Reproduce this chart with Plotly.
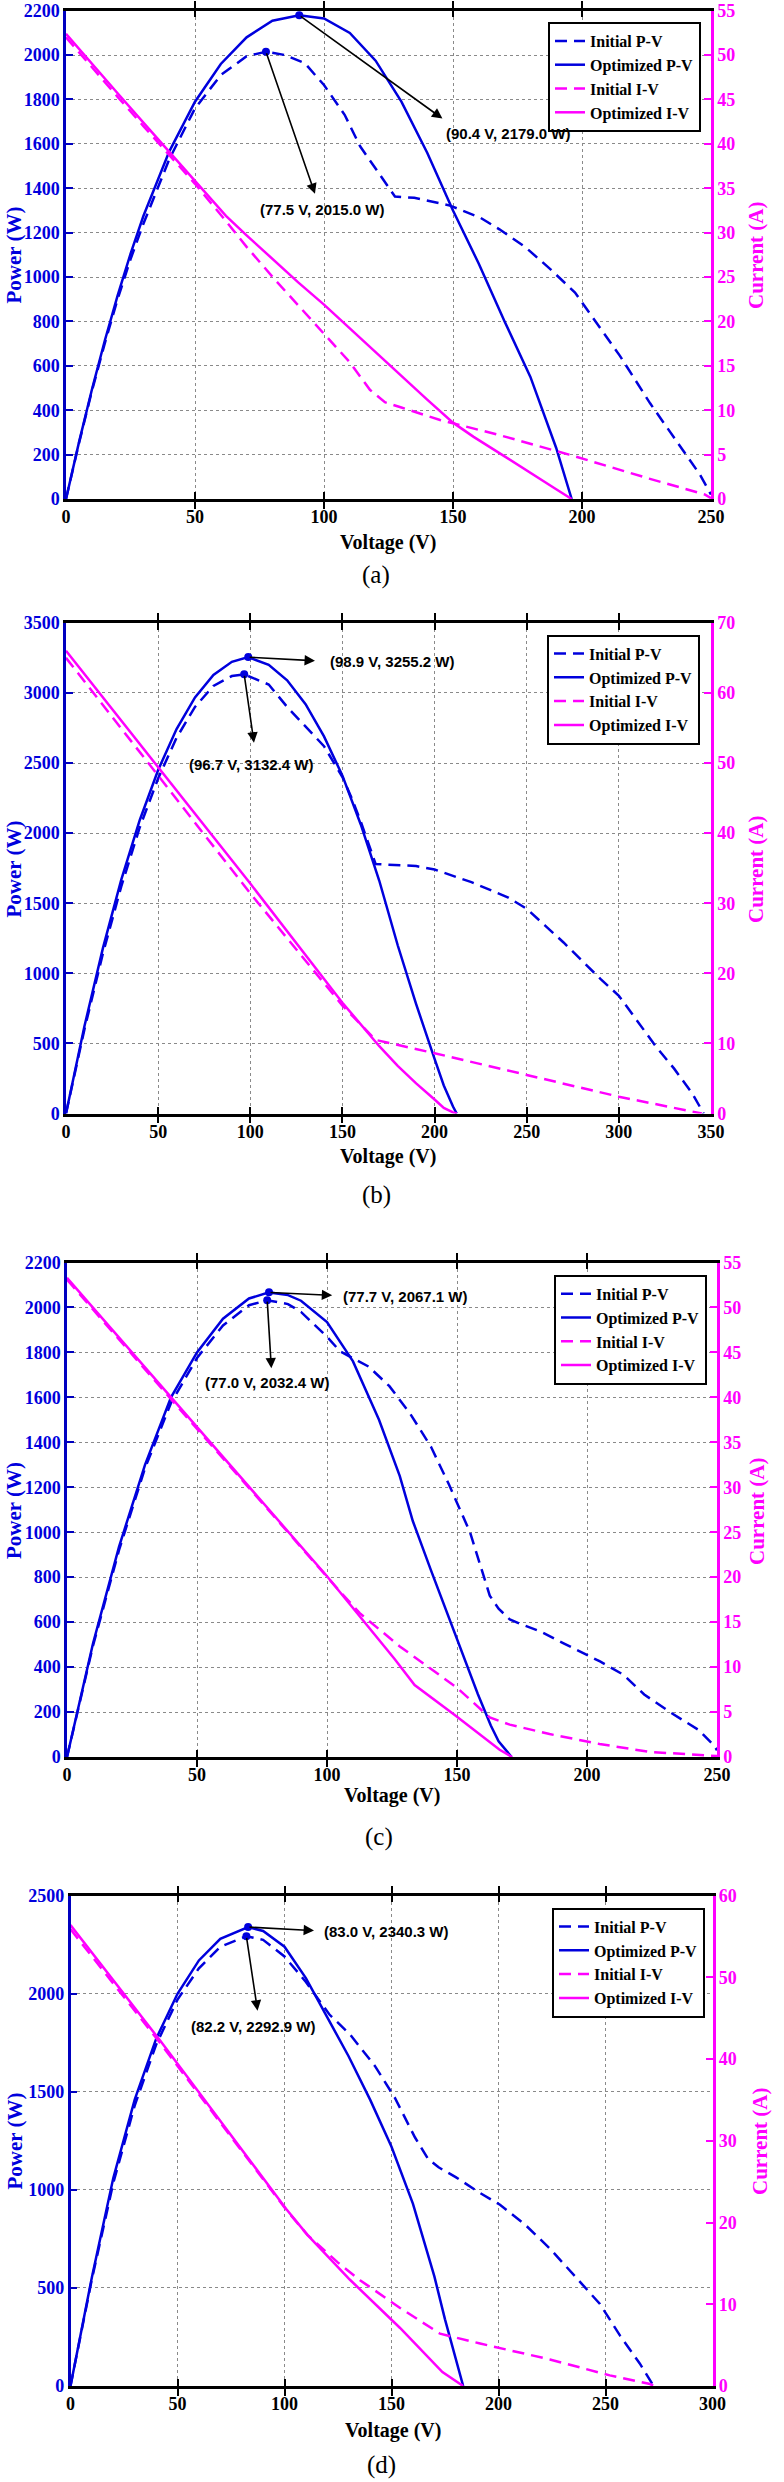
import plotly.graph_objects as go

# ---------------- Panel (a) ----------------
a_v_pv_init = [0, 5, 10, 15, 20, 25, 30, 40, 50, 60, 70, 77.5, 85, 92.6, 100, 108, 114, 120, 124.6, 127.5, 135, 148.8, 160.5, 168, 178, 187.6, 197.3, 207, 214.7, 226.4, 236, 245.7, 250]
a_p_pv_init = [0, 250, 485, 700, 900, 1080, 1240, 1530, 1760, 1910, 1995, 2015, 2000, 1963, 1865, 1731, 1589, 1490, 1411, 1363, 1357, 1322, 1268, 1215, 1135, 1037, 930, 770, 645, 431, 271, 110, 20]
a_v_pv_opt = [0, 5, 10, 15, 20, 25, 30, 40, 50, 60, 70, 80, 90.4, 100, 110, 120, 130, 140, 150, 160, 170, 180, 190, 196]
a_p_pv_opt = [0, 254, 491, 712, 916, 1104, 1275, 1565, 1790, 1960, 2080, 2155, 2179, 2165, 2100, 1975, 1790, 1560, 1300, 1060, 800, 550, 230, 0]
a_v_iv_init = [0, 10, 20, 30, 40, 50, 62, 70, 81, 90, 100, 110, 117.8, 123.6, 130, 145, 168, 195, 226, 247.7, 250]
a_i_iv_init = [52.0, 48.6, 45.3, 42.0, 38.8, 35.5, 31.3, 28.4, 24.7, 21.8, 18.6, 15.4, 12.3, 10.9, 10.3, 8.9, 7.2, 5.0, 2.3, 0.5, 0.1]
a_v_iv_opt = [0, 10, 20, 30, 40, 50, 62, 70, 80, 90, 100, 110, 120, 130, 140, 150, 158, 170, 180, 190, 196]
a_i_iv_opt = [52.4, 49.0, 45.7, 42.4, 39.1, 35.8, 31.9, 29.7, 27.0, 24.4, 21.9, 19.2, 16.5, 13.9, 11.2, 8.6, 7.0, 4.8, 3.0, 1.1, 0]

# ---------------- Panel (b) ----------------
b_v_pv_init = [0, 10, 20, 30, 40, 50, 60, 70, 80, 90, 96.7, 110, 120, 130, 140, 150, 155, 160, 165, 168, 175, 190, 200, 220, 240, 250, 260, 270, 280, 290, 300, 310, 320, 330, 340, 346]
b_p_pv_init = [0, 600, 1140, 1620, 2040, 2390, 2680, 2900, 3050, 3120, 3132, 3060, 2900, 2760, 2620, 2400, 2250, 2080, 1900, 1780, 1775, 1765, 1740, 1650, 1540, 1460, 1340, 1220, 1090, 960, 840, 660, 480, 320, 140, 0]
b_v_pv_opt = [0, 10, 20, 30, 40, 50, 60, 70, 80, 90, 98.9, 110, 120, 130, 140, 150, 160, 170, 180, 190, 200, 205, 210, 212]
b_p_pv_opt = [0, 622, 1178, 1668, 2092, 2450, 2742, 2968, 3128, 3222, 3255, 3200, 3090, 2920, 2690, 2410, 2060, 1660, 1200, 780, 390, 200, 50, 0]
b_v_iv_init = [0, 50, 100, 150, 168, 200, 250, 300, 345]
b_i_iv_init = [65.0, 48.2, 31.4, 15.4, 10.5, 8.6, 5.5, 2.4, 0]
b_v_iv_opt = [0, 50, 100, 150, 170, 180, 190, 200, 205, 210, 212]
b_i_iv_opt = [66.0, 49.4, 32.8, 15.8, 9.6, 6.8, 4.3, 2.0, 0.8, 0.15, 0]

# ---------------- Panel (c) ----------------
c_v_pv_init = [0, 10, 20, 30, 40, 50, 60, 70, 77, 85, 90, 100, 105, 110, 116, 124, 132, 140, 147, 155, 162.6, 166, 170.3, 174, 182, 191, 199, 205, 214, 222, 232, 243, 249, 250]
c_p_pv_init = [0, 495, 920, 1285, 1575, 1775, 1920, 2010, 2032, 2015, 1980, 1870, 1805, 1775, 1737, 1650, 1527, 1380, 1210, 1000, 718, 660, 612, 594, 559, 506, 460, 425, 366, 278, 199, 120, 49, 30]
c_v_pv_opt = [0, 10, 20, 30, 40, 50, 60, 70, 77.7, 85, 90, 100, 110, 120, 128, 133, 140, 150, 158, 163, 166, 171]
c_p_pv_opt = [0, 505, 935, 1300, 1600, 1800, 1950, 2040, 2067, 2055, 2030, 1935, 1760, 1500, 1250, 1050, 830, 520, 280, 140, 70, 0]
c_v_iv_init = [0, 40, 105, 112.6, 128, 140, 150, 162.6, 170.3, 185.6, 204.8, 224, 249, 250]
c_i_iv_init = [53.1, 39.8, 18.4, 16.0, 12.3, 9.8, 7.7, 4.4, 3.6, 2.55, 1.45, 0.57, 0.13, 0.1]
c_v_iv_opt = [0, 40, 100, 126, 133.7, 149, 158.7, 166.4, 171.2]
c_i_iv_opt = [53.3, 40.0, 20.1, 10.9, 8.0, 4.7, 2.55, 0.8, 0]

# ---------------- Panel (d) ----------------
d_v_pv_init = [0, 10, 20, 30, 40, 50, 60, 70, 82.2, 90, 100, 110, 121, 130.6, 142.3, 151.6, 161, 167, 172, 180, 191.4, 200.7, 212.4, 224, 235.7, 247.4, 256.8, 266, 272.5]
d_p_pv_init = [0, 545, 1035, 1430, 1740, 1970, 2130, 2240, 2293, 2275, 2190, 2060, 1894, 1793, 1631, 1469, 1267, 1160, 1115, 1065, 984, 924, 823, 701, 560, 418, 257, 115, 0]
d_v_pv_opt = [0, 10, 20, 30, 40, 50, 60, 70, 83, 90, 100, 110, 120, 130, 140, 150, 160, 170, 175, 180, 183.5]
d_p_pv_opt = [0, 555, 1060, 1460, 1770, 2000, 2170, 2280, 2340, 2320, 2240, 2080, 1880, 1680, 1460, 1220, 930, 560, 340, 140, 0]
d_v_iv_init = [0, 41.8, 100.7, 110.7, 125, 135.3, 154, 172.7, 191.4, 224, 252, 270.8, 272.5]
d_i_iv_init = [55.9, 42.0, 21.6, 18.5, 15.1, 12.95, 9.55, 6.4, 5.2, 3.25, 1.3, 0.24, 0]
d_v_iv_opt = [0, 41.8, 100.7, 110.7, 130.6, 154, 173.8, 183.5]
d_i_iv_opt = [56.4, 42.3, 21.7, 18.5, 13.0, 7.1, 1.7, 0]

# Maximum power points: [V_init, P_init, V_opt, P_opt]
mpp_a = [77.5, 2015.0, 90.4, 2179.0]
mpp_b = [96.7, 3132.4, 98.9, 3255.2]
mpp_c = [77.0, 2032.4, 77.7, 2067.1]
mpp_d = [82.2, 2292.9, 83.0, 2340.3]

# arrow heads / label centres (data coords):
# [init_head_V, init_head_P, init_lbl_V, init_lbl_P, opt_head_V, opt_head_P, opt_lbl_V, opt_lbl_P]
ann_a = [96.5, 1375, 99.4, 1304, 145.9, 1714, 171.7, 1649]
ann_b = [102.0, 2645, 100.9, 2490, 135.1, 3229, 176.9, 3223]
ann_c = [78.6, 1729, 77.2, 1664, 102.0, 2054, 130.1, 2049]
ann_d = [87.4, 1914, 85.3, 1833, 113.8, 2322, 147.7, 2318]

# axes ranges
x_max = [250, 350, 250, 300]
x_dtick = [50, 50, 50, 50]
p_max = [2200, 3500, 2200, 2500]
p_dtick = [200, 500, 200, 500]
i_max = [55, 70, 55, 60]
i_dtick = [5, 10, 5, 10]
panel_labels = ["(a)", "(b)", "(c)", "(d)"]
x_title = "Voltage (V)"
yl_title = "Power (W)"
yr_title = "Current (A)"

W, H = 784, 2482
BLUE = "#0000DD"
AXBLUE = "#0000C0"
MAG = "#FF00FF"
SERIF = "Liberation Serif, Times New Roman, serif"
SANS = "Liberation Sans Narrow, Arial Narrow, Liberation Sans, Arial, sans-serif"

# page pixel geometry (left, right, top, bottom) of the plot boxes
boxes = [(66, 711, 10.7, 499), (66, 711, 622.8, 1113.5), (67, 717, 1262.5, 1757), (70.5, 712.5, 1895.7, 2386)]
legend_pos = [(701, 22), (700, 634.6), (707, 1274.8), (705, 1907.6)]
label_pos = [(375.5, 575), (376, 1195), (378.5, 1837), (381, 2465)]
xtitle_pos = [(388, 542), (388, 1156.6), (391.5, 1795.5), (393, 2430)]
yltitle_pos = [(13.5, 255), (13.5, 869), (14, 1511), (14.5, 2141)]
yrtitle_pos = [(756, 255), (756, 869), (757, 1511), (760, 2141)]


def fx(px):
    return px / W


def fy(py):
    return 1 - py / H


data = [
    (a_v_pv_init, a_p_pv_init, a_v_pv_opt, a_p_pv_opt, a_v_iv_init, a_i_iv_init, a_v_iv_opt, a_i_iv_opt, mpp_a, ann_a),
    (b_v_pv_init, b_p_pv_init, b_v_pv_opt, b_p_pv_opt, b_v_iv_init, b_i_iv_init, b_v_iv_opt, b_i_iv_opt, mpp_b, ann_b),
    (c_v_pv_init, c_p_pv_init, c_v_pv_opt, c_p_pv_opt, c_v_iv_init, c_i_iv_init, c_v_iv_opt, c_i_iv_opt, mpp_c, ann_c),
    (d_v_pv_init, d_p_pv_init, d_v_pv_opt, d_p_pv_opt, d_v_iv_init, d_i_iv_init, d_v_iv_opt, d_i_iv_opt, mpp_d, ann_d),
]

fig = go.Figure()
layout = dict(
    width=W, height=H, margin=dict(l=0, r=0, t=0, b=0, autoexpand=False),
    paper_bgcolor="white", plot_bgcolor="white", showlegend=True,
    annotations=[],
)

DASH = "12px,7px"
GRID = "#8a8a8a"

for k in range(4):
    n = k + 1
    xs = "" if n == 1 else str(n)
    yl = "" if n == 1 else str(2 * n - 1)
    yr = str(2 * n)
    xref, ylref, yrref = "x" + xs, "y" + yl, "y" + yr
    leg = "legend" if n == 1 else "legend" + str(n)
    vpi, ppi, vpo, ppo, vii, iii, vio, iio, mpp, ann = data[k]
    l, r, t, b = boxes[k]

    fig.add_trace(go.Scatter(x=vpi, y=ppi, mode="lines", name="Initial P-V", legend=leg,
                             line=dict(color=BLUE, width=2.5, dash=DASH), xaxis=xref, yaxis=ylref))
    fig.add_trace(go.Scatter(x=vpo, y=ppo, mode="lines", name="Optimized P-V", legend=leg,
                             line=dict(color=BLUE, width=2.5), xaxis=xref, yaxis=ylref))
    fig.add_trace(go.Scatter(x=vii, y=iii, mode="lines", name="Initial I-V", legend=leg,
                             line=dict(color=MAG, width=2.5, dash=DASH), xaxis=xref, yaxis=yrref))
    fig.add_trace(go.Scatter(x=vio, y=iio, mode="lines", name="Optimized I-V", legend=leg,
                             line=dict(color=MAG, width=2.5), xaxis=xref, yaxis=yrref))
    fig.add_trace(go.Scatter(x=[mpp[0], mpp[2]], y=[mpp[1], mpp[3]], mode="markers", showlegend=False,
                             marker=dict(color=BLUE, size=8), xaxis=xref, yaxis=ylref, cliponaxis=False))

    layout["xaxis" + xs] = dict(
        domain=[fx(l), fx(r)], anchor=ylref, range=[0, x_max[k]], dtick=x_dtick[k], tick0=0,
        ticks="inside", ticklen=7, tickwidth=1.5, tickcolor="black",
        showline=True, linecolor="black", linewidth=2.5, mirror="allticks",
        showgrid=True, gridcolor=GRID, griddash="dot", gridwidth=1, zeroline=False,
        tickfont=dict(family=SERIF, size=18, color="black", weight="bold"),
        fixedrange=True,
    )
    layout["yaxis" + yl] = dict(
        domain=[fy(b), fy(t)], anchor=xref, range=[0, p_max[k]], dtick=p_dtick[k], tick0=0,
        ticks="inside", ticklen=7, tickwidth=1.5, tickcolor=AXBLUE,
        showline=True, linecolor=AXBLUE, linewidth=2.5,
        showgrid=True, gridcolor=GRID, griddash="dot", gridwidth=1, zeroline=False,
        tickfont=dict(family=SERIF, size=18, color=BLUE, weight="bold"),
        fixedrange=True,
    )
    layout["yaxis" + yr] = dict(
        overlaying=ylref, side="right", anchor=xref, range=[0, i_max[k]], dtick=i_dtick[k], tick0=0,
        ticks="inside", ticklen=7, tickwidth=1.5, tickcolor=MAG,
        showline=True, linecolor=MAG, linewidth=2.5,
        showgrid=False, zeroline=False,
        tickfont=dict(family=SERIF, size=18, color=MAG, weight="bold"),
        fixedrange=True,
    )
    lx, ly = legend_pos[k]
    layout[leg] = dict(
        x=fx(lx), y=fy(ly), xanchor="right", yanchor="top",
        bgcolor="white", bordercolor="black", borderwidth=2,
        font=dict(family=SERIF, size=16, color="black", weight="bold"),
        tracegroupgap=0, itemwidth=30,
    )

    # arrows from the maximum power points and their labels
    for (pv, pp, hv, hp, tv, tp) in [
        (mpp[0], mpp[1], ann[0], ann[1], ann[2], ann[3]),
        (mpp[2], mpp[3], ann[4], ann[5], ann[6], ann[7]),
    ]:
        layout["annotations"].append(dict(
            x=hv, y=hp, ax=pv, ay=pp, xref=xref, yref=ylref, axref=xref, ayref=ylref,
            text="", showarrow=True, arrowhead=2, arrowsize=1.3, arrowwidth=1.6,
            arrowcolor="black", standoff=0, startstandoff=0,
        ))
        layout["annotations"].append(dict(
            x=tv, y=tp, xref=xref, yref=ylref, text=f"({pv:.1f} V, {pp:.1f} W)", showarrow=False,
            font=dict(family=SANS, size=15, color="black", weight="bold"),
            xanchor="center", yanchor="middle",
        ))

    # axis titles and panel label
    tx, ty = xtitle_pos[k]
    layout["annotations"].append(dict(
        x=fx(tx), y=fy(ty), xref="paper", yref="paper", text=x_title, showarrow=False,
        font=dict(family=SERIF, size=20, color="black", weight="bold"), xanchor="center", yanchor="middle",
    ))
    tx, ty = yltitle_pos[k]
    layout["annotations"].append(dict(
        x=fx(tx), y=fy(ty), xref="paper", yref="paper", text=yl_title, showarrow=False, textangle=-90,
        font=dict(family=SERIF, size=21, color=BLUE, weight="bold"), xanchor="center", yanchor="middle",
    ))
    tx, ty = yrtitle_pos[k]
    layout["annotations"].append(dict(
        x=fx(tx), y=fy(ty), xref="paper", yref="paper", text=yr_title, showarrow=False, textangle=-90,
        font=dict(family=SERIF, size=21, color=MAG, weight="bold"), xanchor="center", yanchor="middle",
    ))
    px_, py_ = label_pos[k]
    layout["annotations"].append(dict(
        x=fx(px_), y=fy(py_), xref="paper", yref="paper", text=panel_labels[k], showarrow=False,
        font=dict(family=SERIF, size=25, color="black"), xanchor="center", yanchor="middle",
    ))

fig.update_layout(**layout)
# remove the page body's default margin so the figure fills the window exactly
fig.write_html(
    "out.html",
    config={"displayModeBar": False, "staticPlot": False},
    post_script="document.body.style.margin='0px';document.body.style.padding='0px';",
)
